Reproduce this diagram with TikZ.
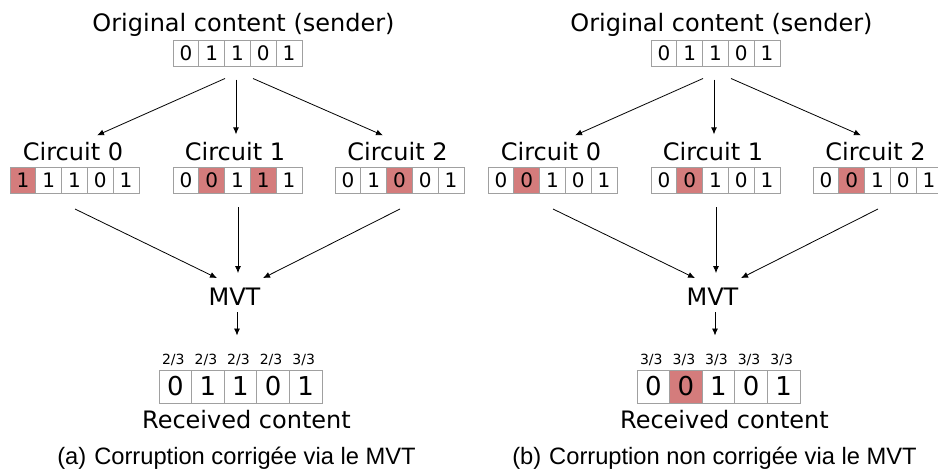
\documentclass[tikz,border=0pt]{standalone}
\usepackage{fontspec}
\setmainfont{DejaVu Sans}
\newfontfamily\capfont{Liberation Sans}
\usetikzlibrary{arrows.meta,calc}

\definecolor{badred}{HTML}{D47C7C}
\definecolor{cellgrey}{HTML}{A0A0A0}

\tikzset{
  bit/.style={draw=cellgrey, line width=0.5pt, minimum width=12.9pt, minimum height=13pt,
    inner sep=0pt, font=\fontsize{10}{10}\selectfont},
  bigbit/.style={bit, minimum width=16.3pt, minimum height=16.5pt, font=\fontsize{13}{13}\selectfont},
  ok/.style={fill=white},
  bad/.style={fill=badred},
  lbl/.style={font=\fontsize{12}{12}\selectfont, inner sep=0pt, anchor=base},
  vote/.style={font=\fontsize{7}{7}\selectfont, inner sep=0pt, anchor=base},
  capt/.style={font=\capfont\fontsize{11.85}{12}\selectfont, inner sep=0pt, anchor=base},
  flow/.style={-{Latex[length=3.5pt,width=3pt]}, line width=0.4pt},
}

% a row of five bit cells: name, centre x, centre y, style, cell step, list bit/flag
\newcommand{\bitrow}[6]{%
  \foreach \b/\f [count=\i] in {#6}
    \node[#4,\f] (#1\i) at ({#2+(\i-3)*#5},#3) {\b};
}

\begin{document}
\begin{tikzpicture}[x=0.5pt,y=-0.5pt]
  \useasboundingbox (0,0) rectangle (938,471);

  % (a) corruption corrected
  \node[lbl] (aSend) at (243.5,32) {Original content (sender)};
  \bitrow{aT}{237.5}{53.7}{bit}{25.8}{0/ok,1/ok,1/ok,0/ok,1/ok}
  \node[lbl] (aC0) at (73,160) {Circuit 0};
  \node[lbl] (aC1) at (235,160) {Circuit 1};
  \node[lbl] (aC2) at (397.5,160) {Circuit 2};
  \bitrow{aX}{74.5}{180.5}{bit}{25.8}{1/bad,1/ok,1/ok,0/ok,1/ok}
  \bitrow{aY}{237.5}{180.5}{bit}{25.8}{0/ok,0/bad,1/ok,1/bad,1/ok}
  \bitrow{aZ}{399.5}{180.5}{bit}{25.8}{0/ok,1/ok,0/bad,0/ok,1/ok}
  \node[lbl] (aMVT) at (234.5,305) {MVT};
  \bitrow{aR}{240.5}{386.5}{bigbit}{32.6}{0/ok,1/ok,1/ok,0/ok,1/ok}
  \foreach \v [count=\i] in {{2/3},{2/3},{2/3},{2/3},{3/3}}
    \node[vote] (aV\i) at ($(aR\i.north)+(-2,-5)$) {\v};
  \node[lbl] (aRecv) at (246.5,428) {Received content};
  \node[capt] (aCap) at (236.5,464) {(a)\hspace{4pt}Corruption corrigée via le MVT};

  % arrows
  \draw[flow] ($(aT3.south)+(-12.5,11.3)$) -- ($(aC0.north)+(24,-6)$);
  \draw[flow] ($(aT3.south)+(-1.5,12.3)$) -- ($(aC1.north)+(1,-7)$);
  \draw[flow] ($(aT3.south)+(15.5,11.3)$) -- ($(aC2.north)+(-14.5,-6)$);
  \draw[flow] ($(aX3.south)+(0.5,15)$) -- ($(aMVT.north)+(-17.5,-9)$);
  \draw[flow] ($(aY3.south)+(0.5,13)$) -- ($(aMVT.north)+(3.5,-14)$);
  \draw[flow] ($(aZ3.south)+(0.5,15)$) -- ($(aMVT.north)+(28.5,-9)$);
  \draw[flow] ($(aMVT.south)+(2.5,7)$) -- ($(aR3.north)+(-3.5,-34)$);

  % (b) corruption not corrected
  \begin{scope}[xshift=239pt]
    \node[lbl] (bSend) at (243.5,32) {Original content (sender)};
    \bitrow{bT}{237.5}{53.7}{bit}{25.8}{0/ok,1/ok,1/ok,0/ok,1/ok}
    \node[lbl] (bC0) at (73,160) {Circuit 0};
    \node[lbl] (bC1) at (235,160) {Circuit 1};
    \node[lbl] (bC2) at (397.5,160) {Circuit 2};
    \bitrow{bX}{74.5}{180.5}{bit}{25.8}{0/ok,0/bad,1/ok,0/ok,1/ok}
    \bitrow{bY}{237.5}{180.5}{bit}{25.8}{0/ok,0/bad,1/ok,0/ok,1/ok}
    \bitrow{bZ}{399.5}{180.5}{bit}{25.8}{0/ok,0/bad,1/ok,0/ok,1/ok}
    \node[lbl] (bMVT) at (234.5,305) {MVT};
    \bitrow{bR}{240.5}{386.5}{bigbit}{32.6}{0/ok,0/bad,1/ok,0/ok,1/ok}
    \foreach \v [count=\i] in {{3/3},{3/3},{3/3},{3/3},{3/3}}
      \node[vote] (bV\i) at ($(bR\i.north)+(-2,-5)$) {\v};
    \node[lbl] (bRecv) at (246.5,428) {Received content};
    \node[capt] (bCap) at (236.5,464) {(b)\hspace{4pt}Corruption non corrigée via le MVT};

    % arrows
    \draw[flow] ($(bT3.south)+(-12.5,11.3)$) -- ($(bC0.north)+(24,-6)$);
    \draw[flow] ($(bT3.south)+(-1.5,12.3)$) -- ($(bC1.north)+(1,-7)$);
    \draw[flow] ($(bT3.south)+(15.5,11.3)$) -- ($(bC2.north)+(-14.5,-6)$);
    \draw[flow] ($(bX3.south)+(0.5,15)$) -- ($(bMVT.north)+(-17.5,-9)$);
    \draw[flow] ($(bY3.south)+(0.5,13)$) -- ($(bMVT.north)+(3.5,-14)$);
    \draw[flow] ($(bZ3.south)+(0.5,15)$) -- ($(bMVT.north)+(28.5,-9)$);
    \draw[flow] ($(bMVT.south)+(2.5,7)$) -- ($(bR3.north)+(-3.5,-34)$);
  \end{scope}
\end{tikzpicture}
\end{document}
